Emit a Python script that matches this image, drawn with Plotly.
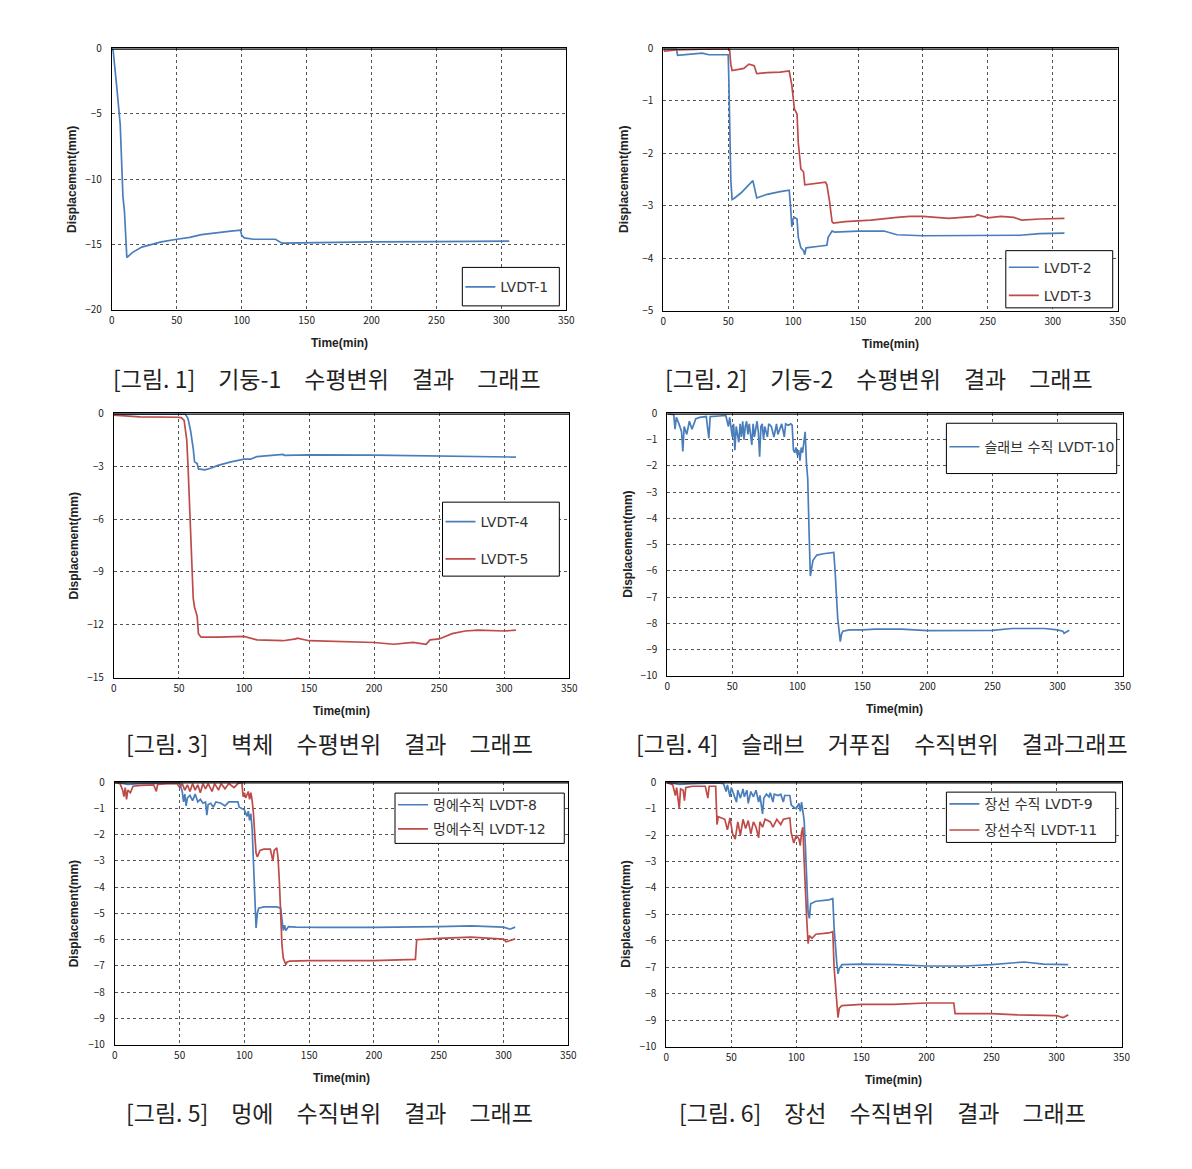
import plotly.graph_objects as go

# ---------------- data (time in min, displacement in mm) ----------------
lvdt1 = [(0, 0), (1, -0.2), (3.8, -3.0), (6.4, -5.8), (8.5, -11.3), (9.7, -12.5), (11.5, -16.0),
         (16, -15.6), (23, -15.2), (30, -15.0), (38, -14.8), (50, -14.6), (60, -14.45), (69, -14.25),
         (80, -14.1), (90, -14.0), (99, -13.9), (100, -14.3), (102, -14.5), (109, -14.6), (115, -14.6),
         (126, -14.6), (131, -14.9), (140, -14.88), (154, -14.85), (200, -14.8), (250, -14.78), (306, -14.75)]

lvdt2 = [(0, 0), (10, 0), (11, -0.13), (20, -0.11), (30, -0.09), (35, -0.12), (50, -0.12), (50.5, -0.6),
         (51, -1.6), (52, -2.5), (53, -2.88), (55, -2.85), (60, -2.75), (65, -2.62), (69, -2.52), (72, -2.85),
         (80, -2.78), (90, -2.73), (97, -2.7), (98, -3.0), (99, -3.4), (100, -3.25), (101, -3.22), (103, -3.25),
         (104, -3.6), (106, -3.8), (108, -3.85), (109, -3.93), (110, -3.8), (120, -3.77), (126, -3.75),
         (127, -3.6), (130, -3.48), (132, -3.5), (150, -3.48), (170, -3.48), (180, -3.55), (200, -3.57),
         (250, -3.56), (275, -3.56), (290, -3.53), (309, -3.52)]

lvdt3 = [(0, 0), (1, -0.05), (10, -0.03), (30, -0.02), (50, -0.01), (51, 0), (52, -0.3), (53, -0.42),
         (58, -0.4), (62, -0.38), (66, -0.3), (70, -0.33), (72, -0.48), (80, -0.46), (90, -0.45), (97, -0.43),
         (99, -0.7), (100, -1.0), (101, -1.15), (103, -1.25), (104, -1.8), (106, -2.3), (108, -2.35),
         (109, -2.6), (115, -2.58), (125, -2.55), (126, -2.6), (128, -2.9), (130, -3.3), (131, -3.33),
         (140, -3.3), (160, -3.27), (180, -3.22), (190, -3.2), (200, -3.2), (220, -3.24), (240, -3.2),
         (242, -3.17), (250, -3.23), (260, -3.2), (270, -3.22), (276, -3.27), (290, -3.25), (309, -3.24)]

lvdt4 = [(0, -0.03), (30, -0.05), (55, -0.05), (57, -0.3), (59, -1.0), (61, -2.0), (62, -2.75), (64, -2.85),
         (65, -3.15), (70, -3.2), (75, -3.1), (80, -2.95), (90, -2.75), (100, -2.6), (105, -2.6), (110, -2.45),
         (120, -2.4), (130, -2.33), (131, -2.38), (150, -2.35), (200, -2.37), (250, -2.42), (309, -2.48)]

lvdt5 = [(0, -0.1), (20, -0.2), (50, -0.22), (52, -0.25), (54, -0.4), (56, -1.5), (57, -3.0), (58, -5.0),
         (59, -7.0), (60, -8.6), (61, -10.5), (62, -11.0), (63, -11.2), (64, -11.5), (65, -12.5), (67, -12.7),
         (80, -12.7), (100, -12.65), (110, -12.85), (130, -12.9), (140, -12.8), (141, -12.75), (150, -12.9),
         (180, -12.95), (200, -13.0), (215, -13.1), (230, -13.0), (240, -13.1), (243, -12.85), (250, -12.8),
         (260, -12.5), (270, -12.35), (280, -12.3), (300, -12.35), (309, -12.3)]

lvdt10 = [(0, 0), (5, -0.05), (6, -0.6), (7, -0.15), (9, -0.4), (11, -0.7), (12, -1.45), (13, -0.5),
          (15, -0.8), (17, -0.3), (19, -0.6), (22, -0.2), (25, -0.15), (30, -0.12), (32, -0.95), (33, -0.12),
          (40, -0.1), (45, -0.08), (47, -0.5), (48, -0.15), (50, -0.9), (51, -0.4), (52, -1.4), (53, -0.5),
          (55, -1.1), (56, -0.4), (57, -0.9), (58, -0.3), (59, -1.0), (60, -0.5), (61, -0.3), (62, -0.8),
          (63, -0.4), (65, -1.2), (66, -0.4), (67, -0.9), (69, -0.3), (70, -0.7), (71, -1.65), (72, -0.5),
          (73, -0.4), (74, -1.0), (75, -0.5), (77, -0.9), (78, -0.4), (80, -0.5), (82, -0.9), (84, -0.4),
          (85, -0.8), (88, -0.4), (90, -0.9), (91, -0.4), (93, -0.45), (95, -0.4), (96, -0.45), (97, -1.4),
          (98, -1.5), (99, -1.3), (100, -1.6), (101, -1.4), (102, -1.8), (103, -1.3), (104, -1.5),
          (106, -0.7), (107, -1.9), (108, -2.5), (109, -4.5), (110, -6.2), (111, -5.9), (112, -5.6),
          (115, -5.4), (120, -5.35), (128, -5.3), (129, -6.0), (131, -7.8), (132, -8.4), (133, -8.7),
          (134, -8.4), (135, -8.3), (140, -8.25), (150, -8.25), (160, -8.22), (180, -8.22), (200, -8.28),
          (230, -8.28), (250, -8.27), (265, -8.2), (290, -8.2), (300, -8.25), (304, -8.3), (305, -8.38),
          (309, -8.27)]

lvdt8 = [(0, 0), (10, -0.08), (20, -0.05), (30, -0.05), (50, -0.03), (52, -0.35), (53, -0.75), (54, -0.45),
         (55, -0.9), (56, -0.6), (58, -0.5), (60, -0.7), (62, -0.45), (64, -0.75), (66, -0.65), (68, -0.8),
         (70, -0.75), (71, -1.25), (72, -0.85), (74, -0.8), (76, -0.95), (78, -0.75), (82, -0.8), (85, -0.9),
         (88, -0.75), (95, -0.75), (96, -0.95), (98, -1.0), (100, -1.05), (102, -1.3), (103, -1.1),
         (104, -1.45), (105, -1.2), (106, -1.8), (107, -3.0), (108, -4.5), (109, -5.55), (110, -5.0),
         (111, -4.8), (115, -4.75), (125, -4.75), (128, -4.8), (129, -5.3), (130, -5.65), (131, -5.45),
         (132, -5.65), (134, -5.5), (140, -5.52), (160, -5.53), (200, -5.53), (250, -5.5), (275, -5.47),
         (300, -5.52), (305, -5.6), (309, -5.52)]

lvdt12 = [(0, 0), (4, -0.05), (6, -0.3), (7, -0.55), (8, -0.2), (9, -0.65), (10, -0.3), (12, -0.4),
          (14, -0.15), (20, -0.12), (30, -0.1), (32, -0.35), (33, -0.08), (40, -0.05), (48, -0.05),
          (50, -0.2), (52, -0.05), (54, -0.3), (56, -0.1), (58, -0.35), (60, -0.05), (62, -0.3), (64, -0.1),
          (66, -0.4), (68, -0.05), (70, -0.25), (72, -0.05), (75, -0.35), (77, -0.05), (80, -0.3),
          (82, -0.05), (85, -0.25), (88, -0.05), (92, -0.2), (95, -0.05), (98, 0), (99, -0.55), (100, -0.4),
          (101, -0.6), (103, -0.35), (104, -0.65), (105, -0.4), (106, -0.7), (107, -1.2), (108, -2.0),
          (109, -2.7), (110, -2.85), (112, -2.6), (115, -2.55), (120, -2.55), (122, -3.0), (123, -2.6),
          (125, -2.5), (126, -2.9), (127, -3.8), (128, -5.2), (129, -6.2), (130, -6.7), (132, -6.95),
          (133, -6.85), (135, -6.82), (150, -6.8), (200, -6.8), (232, -6.75), (233, -6.0), (250, -5.95),
          (275, -5.9), (300, -5.98), (302, -6.08), (309, -5.97)]

lvdt9 = [(0, 0), (10, -0.08), (20, -0.05), (40, -0.02), (44, -0.05), (46, -0.35), (47, -0.1), (49, -0.55),
         (50, -0.2), (52, -0.45), (54, -0.75), (55, -0.3), (57, -0.6), (59, -0.25), (60, -0.55), (62, -0.3),
         (63, -0.8), (65, -0.35), (67, -0.55), (69, -0.3), (71, -0.75), (72, -0.5), (74, -1.2), (75, -0.6),
         (77, -0.45), (79, -0.55), (80, -0.4), (82, -0.75), (83, -0.45), (86, -0.5), (88, -0.45),
         (90, -0.75), (91, -0.5), (95, -0.5), (96, -0.85), (98, -0.95), (100, -1.0), (102, -0.8),
         (103, -1.1), (104, -0.75), (105, -1.2), (106, -1.45), (107, -2.5), (108, -3.8), (109, -4.9),
         (110, -5.15), (111, -4.6), (115, -4.5), (125, -4.45), (128, -4.4), (129, -5.5), (131, -6.8),
         (132, -7.25), (133, -7.05), (135, -6.9), (150, -6.88), (175, -6.9), (200, -6.95), (230, -6.95),
         (250, -6.9), (265, -6.85), (275, -6.8), (290, -6.88), (300, -6.9), (309, -6.9)]

lvdt11 = [(0, 0), (5, -0.1), (7, -0.5), (8, -0.2), (10, -1.0), (11, -0.25), (13, -0.3), (14, -0.7),
          (15, -0.2), (20, -0.15), (30, -0.15), (32, -0.6), (33, -0.15), (38, -0.15), (39, -1.6), (40, -1.3),
          (45, -1.4), (47, -1.8), (49, -1.35), (51, -1.95), (53, -2.15), (55, -1.5), (57, -2.0), (59, -1.4),
          (61, -1.75), (63, -1.45), (65, -1.95), (67, -1.5), (69, -1.7), (71, -2.1), (72, -1.5), (74, -1.7),
          (76, -1.4), (80, -1.5), (82, -1.7), (85, -1.4), (88, -1.6), (90, -1.4), (95, -1.35), (96, -1.9),
          (98, -2.3), (100, -2.0), (102, -2.15), (103, -2.4), (104, -1.9), (105, -1.7), (106, -3.0),
          (107, -4.5), (108, -5.2), (109, -6.1), (110, -5.8), (112, -5.9), (115, -5.75), (125, -5.7),
          (128, -5.65), (129, -7.0), (131, -8.5), (132, -8.9), (133, -8.55), (135, -8.45), (150, -8.4),
          (175, -8.4), (200, -8.35), (221, -8.35), (222, -8.75), (250, -8.75), (270, -8.8), (300, -8.83),
          (305, -8.9), (309, -8.8)]

captions = ["[그림. 1] 기둥-1 수평변위 결과 그래프",
            "[그림. 2] 기둥-2 수평변위 결과 그래프",
            "[그림. 3] 벽체 수평변위 결과 그래프",
            "[그림. 4] 슬래브 거푸집 수직변위 결과그래프",
            "[그림. 5] 멍에 수직변위 결과 그래프",
            "[그림. 6] 장선 수직변위 결과 그래프"]

x_title = "Time(min)"
y_title = "Displacement(mm)"

# ---------------- layout helpers ----------------
W, H = 1192, 1169
BLUE = "#4a7ebb"
RED = "#be4b48"
FONT = "Noto Sans CJK KR"
LEGFONT = "DejaVu Sans, Noto Sans CJK KR"
TITLEFONT = "Liberation Sans Narrow, Liberation Sans"


def fx(px):
    return px / W


def fy(py):
    return 1 - py / H


panels = [
    # plot box (l, r, t, b) px ; legend box (l, t, r, b) ; first legend entry centre y ; caption centre
    dict(box=(110, 569, 40, 305), ymin=-20, dy=5, lbox=(464, 262, 562, 301), ly=282, cap=(327, 374), gap=0,
         series=[(lvdt1, "LVDT-1", BLUE)]),
    dict(box=(667, 1126, 40, 306), ymin=-5, dy=1, lbox=(1013, 245, 1121, 303), ly=262, cap=(885, 374), gap=7,
         series=[(lvdt2, "LVDT-2", BLUE), (lvdt3, "LVDT-3", RED)]),
    dict(box=(112, 572, 410, 678), ymin=-15, dy=3, lbox=(444, 500, 562, 575), ly=520, cap=(330, 744), gap=16,
         series=[(lvdt4, "LVDT-4", BLUE), (lvdt5, "LVDT-5", RED)]),
    dict(box=(671, 1131, 410, 676), ymin=-10, dy=1, lbox=(953, 420, 1125, 471), ly=444, cap=(888, 744), gap=0,
         series=[(lvdt10, "슬래브 수직 LVDT-10", BLUE)]),
    dict(box=(113, 571, 784, 1050), ymin=-10, dy=1, lbox=(396, 795, 567, 846), ly=807, cap=(330, 1118), gap=3,
         series=[(lvdt8, "멍에수직 LVDT-8", BLUE), (lvdt12, "멍에수직 LVDT-12", RED)]),
    dict(box=(670, 1130, 784, 1052), ymin=-10, dy=1, lbox=(953, 794, 1124, 845), ly=806, cap=(888, 1118), gap=5,
         series=[(lvdt9, "장선 수직 LVDT-9", BLUE), (lvdt11, "장선수직 LVDT-11", RED)]),
]

fig = go.Figure()
layout = dict(width=W, height=H, margin=dict(l=0, r=0, t=0, b=0),
              paper_bgcolor="white", plot_bgcolor="white", showlegend=True,
              font=dict(family=FONT, color="#222"), annotations=[], shapes=[])

for i, p in enumerate(panels, start=1):
    sfx = "" if i == 1 else str(i)
    leg = "legend" if i == 1 else f"legend{i}"
    l, r, t, b = p["box"]
    for k, (pts, name, col) in enumerate(p["series"]):
        fig.add_trace(go.Scatter(
            x=[q[0] for q in pts], y=[q[1] for q in pts], mode="lines", name=name,
            line=dict(color=col, width=1.7), xaxis=f"x{sfx}", yaxis=f"y{sfx}",
            legend=leg, legendgroup=f"g{i}_{k}", showlegend=True))
    layout[f"xaxis{sfx}"] = dict(
        domain=[fx(l), fx(r)], range=[0, 350], dtick=50, tick0=0, anchor=f"y{sfx}",
        showgrid=True, gridcolor="#555", griddash="dot", gridwidth=1,
        showline=True, linecolor="black", linewidth=1, mirror=True, zeroline=False,
        ticks="", ticklabelstandoff=1, tickfont=dict(size=10, color="#222", family=FONT))
    layout[f"yaxis{sfx}"] = dict(
        domain=[fy(b), fy(t)], range=[p["ymin"], 0], dtick=p["dy"], tick0=0, anchor=f"x{sfx}",
        showgrid=True, gridcolor="#555", griddash="dot", gridwidth=1,
        showline=True, linecolor="black", linewidth=1, mirror=True, zeroline=False,
        ticks="", ticklabelstandoff=7, tickfont=dict(size=10, color="#222", family=FONT))
    # heavy top frame line at displacement 0
    layout["shapes"].append(dict(type="line", xref=f"x{sfx} domain", yref=f"y{sfx}",
                                 x0=0, x1=1, y0=0, y1=0, line=dict(color="black", width=2.5)))
    # legend frame
    bl, bt, br, bb = p["lbox"]
    layout["shapes"].append(dict(type="rect", xref="paper", yref="paper", layer="above",
                                 x0=fx(bl), x1=fx(br), y0=fy(bb), y1=fy(bt),
                                 fillcolor="white", line=dict(color="black", width=1)))
    layout[leg] = dict(x=fx(bl - 2), y=fy(p["ly"] - 16), xanchor="left", yanchor="top",
                       xref="paper", yref="paper", bgcolor="rgba(0,0,0,0)", borderwidth=0,
                       font=dict(size=14, color="#333", family=LEGFONT),
                       itemwidth=30, tracegroupgap=p["gap"], traceorder="grouped")
    # axis titles
    layout["annotations"].append(dict(
        text=f"<b>{y_title}</b>", xref=f"x{sfx} domain", yref=f"y{sfx} domain", x=0, y=0.5,
        xanchor="center", yanchor="middle", xshift=-40, textangle=-90, showarrow=False,
        font=dict(size=12, color="#222", family=TITLEFONT)))
    layout["annotations"].append(dict(
        text=f"<b>{x_title}</b>", xref=f"x{sfx} domain", yref=f"y{sfx} domain", x=0.5, y=0,
        xanchor="center", yanchor="middle", yshift=-33, showarrow=False,
        font=dict(size=12, color="#222", family=TITLEFONT)))
    # caption
    cx, cy = p["cap"]
    layout["annotations"].append(dict(
        text=captions[i - 1].replace(" ", "\u3000").replace("그림.\u3000", "그림. "),
        xref="paper", yref="paper", x=fx(cx), y=fy(cy), xanchor="center", yanchor="middle",
        showarrow=False, font=dict(size=23, color="#222", family=FONT)))

fig.update_layout(**layout)
fig.write_html("out.html")
